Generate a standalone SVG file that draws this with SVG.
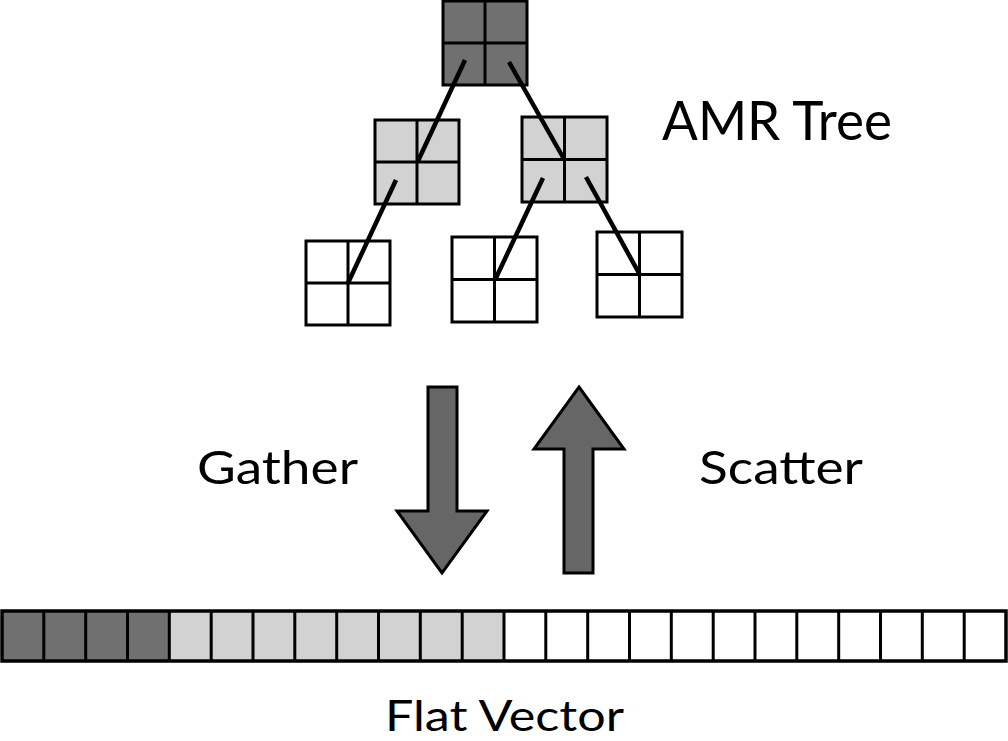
<svg xmlns="http://www.w3.org/2000/svg" width="1008" height="741" viewBox="0 0 1008 741">
<style>
.box{stroke:#000;stroke-width:3}
.dark{fill:#707070}
.light{fill:#d2d2d2}
.white{fill:#fff}
.grid{stroke:#000;stroke-width:3;fill:none}
.edge{stroke:#000;stroke-width:4.5;stroke-linecap:butt}
.arrow{fill:#666;stroke:#000;stroke-width:3;stroke-linejoin:miter}
.lbl{font-family:Lato,"Open Sans","Liberation Sans",sans-serif;fill:#000}
</style>
<rect width="1008" height="741" fill="#fff"/>
<g id="root">
<rect class="box dark" x="443" y="1" width="84" height="84"/>
<path class="grid" d="M485 1V85M443 43H527"/>
</g>
<g id="mid-left">
<rect class="box light" x="375" y="120" width="84" height="84"/>
<path class="grid" d="M417 120V204M375 162H459"/>
</g>
<g id="mid-right">
<rect class="box light" x="522" y="117" width="85" height="85"/>
<path class="grid" d="M564.5 117V202M522 159.5H607"/>
</g>
<g id="leaf-1">
<rect class="box white" x="306" y="241" width="84" height="84"/>
<path class="grid" d="M348 241V325M306 283H390"/>
</g>
<g id="leaf-2">
<rect class="box white" x="452" y="237" width="85" height="85"/>
<path class="grid" d="M494.5 237V322M452 279.5H537"/>
</g>
<g id="leaf-3">
<rect class="box white" x="597" y="232" width="85" height="85"/>
<path class="grid" d="M639.5 232V317M597 274.5H682"/>
</g>
<g id="connectors">
<line class="edge" x1="465" y1="60" x2="418" y2="161"/>
<line class="edge" x1="509" y1="62" x2="564" y2="159"/>
<line class="edge" x1="396" y1="180" x2="348" y2="283"/>
<line class="edge" x1="543" y1="178" x2="495" y2="280"/>
<line class="edge" x1="586" y1="177" x2="640" y2="275"/>
</g>
<g id="gather-arrow">
<path class="arrow" d="M428 387H457V511H487L442 573L397 511H428Z"/>
</g>
<g id="scatter-arrow">
<path class="arrow" d="M579 387L624 449H593V573H564V449H534Z"/>
</g>
<g id="flat-vector">
<rect class="dark" x="2" y="611" width="167" height="50"/>
<rect class="light" x="169" y="611" width="334" height="50"/>
<rect class="white" x="503" y="611" width="503" height="50"/>
<rect x="2" y="611" width="1004" height="50" fill="none" stroke="#000" stroke-width="3.5"/>
<path stroke="#000" stroke-width="3" d="M43.8 611V661M85.7 611V661M127.5 611V661M169.3 611V661M211.2 611V661M253 611V661M294.8 611V661M336.7 611V661M378.5 611V661M420.3 611V661M462.2 611V661M504 611V661M545.8 611V661M587.7 611V661M629.5 611V661M671.3 611V661M713.2 611V661M755 611V661M796.8 611V661M838.7 611V661M880.5 611V661M922.3 611V661M964.2 611V661"/>
</g>
<g id="labels">
<text class="lbl" x="662" y="140" font-size="55" textLength="230" lengthAdjust="spacingAndGlyphs">AMR Tree</text>
<text class="lbl" x="197" y="484" font-size="47" textLength="161" lengthAdjust="spacingAndGlyphs">Gather</text>
<text class="lbl" x="699" y="484" font-size="47" textLength="164" lengthAdjust="spacingAndGlyphs">Scatter</text>
<text class="lbl" x="385" y="731" font-size="43" textLength="239" lengthAdjust="spacingAndGlyphs">Flat Vector</text>
</g>
</svg>
